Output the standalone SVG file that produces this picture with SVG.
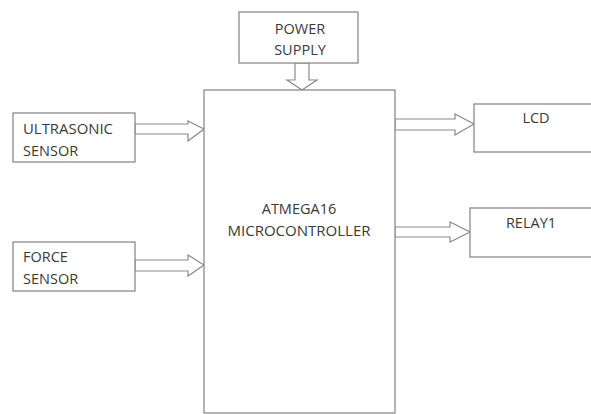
<svg xmlns="http://www.w3.org/2000/svg" width="591" height="414" viewBox="0 0 591 414">
<style>
.box{fill:#fff;stroke:#8a8a8a;stroke-width:1.3}
.arr{fill:#fff;stroke:#8a8a8a;stroke-width:1.2;stroke-linejoin:miter}
text{font-family:"Open Sans","Liberation Sans",sans-serif;font-size:14.5px;fill:#3a3a3a}
.c{text-anchor:middle}
</style>
<rect width="591" height="414" fill="#fff"/>
<g id="connectors">
<polygon class="arr" points="295,63 309,63 309,80 317,80 302,90 287,80 295,80"/>
<polygon class="arr" points="135,124 188,124 188,121 204,129 188,141 188,134 135,134"/>
<polygon class="arr" points="135,260 188,260 188,255 204,265 188,276 188,271 135,271"/>
<polygon class="arr" points="395,119 455,119 455,114 474,124 455,135 455,130 395,130"/>
<polygon class="arr" points="395,227 450,227 450,222 470,232 450,242 450,237 395,237"/>
</g>
<g id="power">
<rect class="box" x="239" y="12" width="119" height="51"/>
<text class="c" x="300" y="34">POWER</text>
<text class="c" x="300" y="55">SUPPLY</text>
</g>
<g id="mcu">
<rect class="box" x="204" y="90" width="191" height="323"/>
<text class="c" x="299" y="214">ATMEGA16</text>
<text class="c" x="299" y="236" textLength="143" lengthAdjust="spacingAndGlyphs">MICROCONTROLLER</text>
</g>
<g id="ultrasonic">
<rect class="box" x="13" y="113" width="122" height="49"/>
<text x="23" y="134" textLength="90" lengthAdjust="spacingAndGlyphs">ULTRASONIC</text>
<text x="23" y="156">SENSOR</text>
</g>
<g id="force">
<rect class="box" x="13" y="242" width="122" height="49"/>
<text x="23" y="262">FORCE</text>
<text x="23" y="284">SENSOR</text>
</g>
<g id="lcd">
<rect class="box" x="474" y="104" width="120" height="48"/>
<text class="c" x="536" y="123">LCD</text>
</g>
<g id="relay">
<rect class="box" x="470" y="208" width="124" height="49"/>
<text class="c" x="531" y="228">RELAY1</text>
</g>
</svg>
